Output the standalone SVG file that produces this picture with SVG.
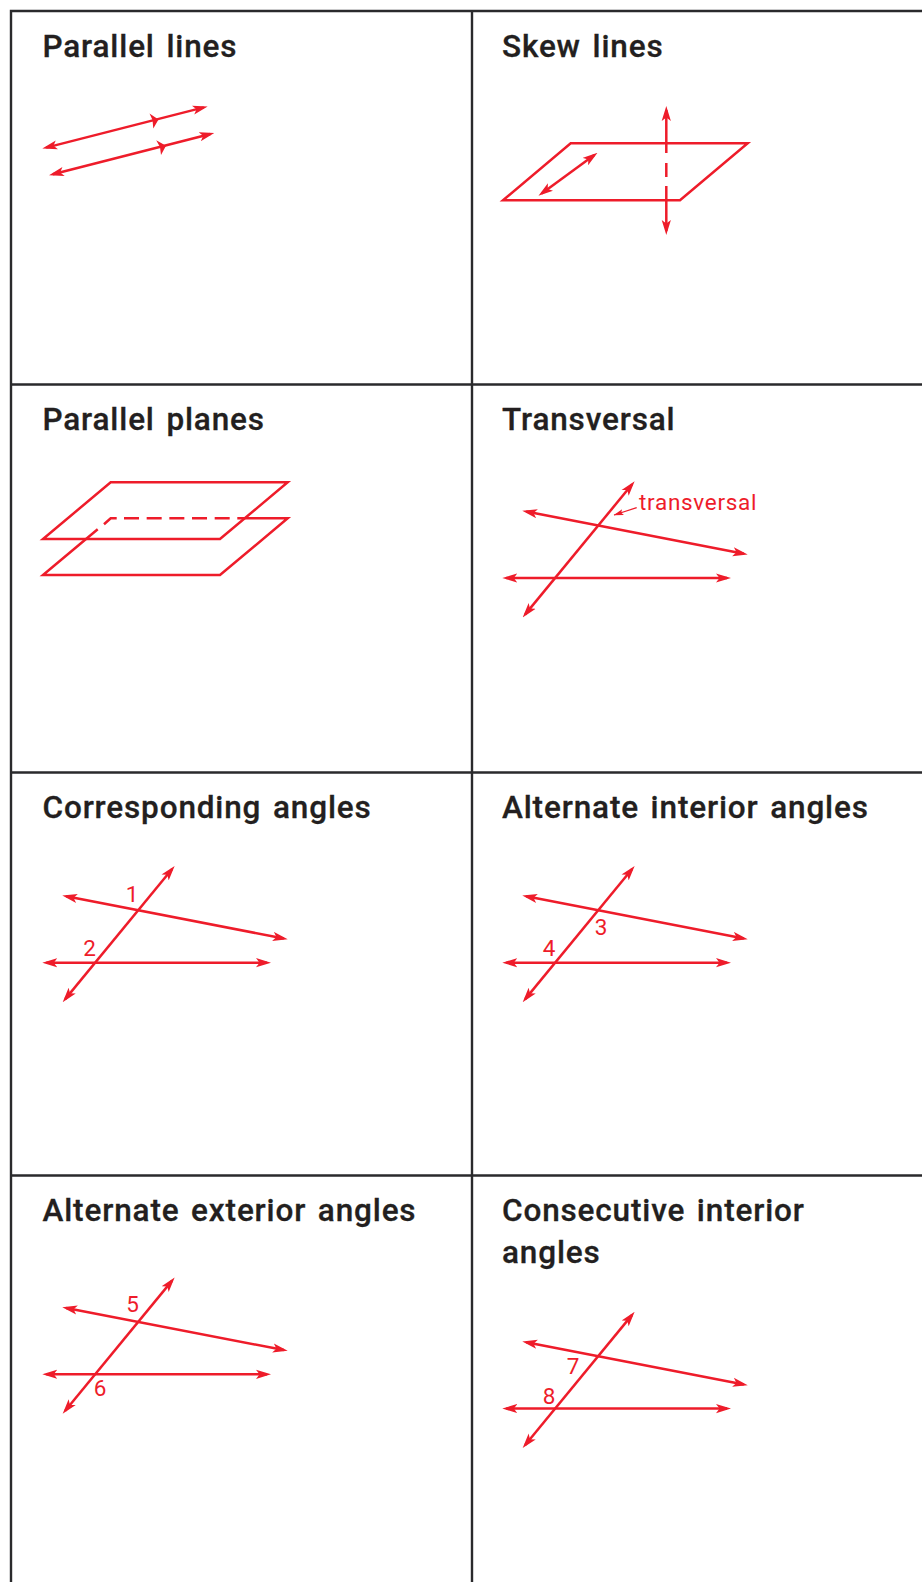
<svg xmlns="http://www.w3.org/2000/svg" width="922" height="1582" viewBox="0 0 922 1582">
<style>
.g{fill:none;stroke:#2a2a2c;stroke-width:2.4}
.t{font-family:Roboto,"Liberation Sans",Arial,sans-serif;font-weight:500;font-size:31.500px;fill:#231f20;stroke:#231f20;stroke-width:.3px;letter-spacing:.85px;word-spacing:3px}
.n{font-family:Roboto,"Liberation Sans",Arial,sans-serif;font-size:22.500px;fill:#ee1c2a;text-anchor:middle}
.l{fill:none;stroke:#ee1c2a;stroke-width:2.500}
.a{marker-start:url(#a);marker-end:url(#a)}
.s{marker-start:url(#a)}
.e{marker-end:url(#a)}
.p{fill:none;stroke:#ee1c2a;stroke-width:2.500;stroke-linejoin:miter}
.h{fill:#ee1c2a}
</style>
<defs>
<marker id="a" viewBox="0 0 15 10" refX="11" refY="5" markerWidth="15" markerHeight="10" markerUnits="userSpaceOnUse" orient="auto-start-reverse"><path d="M0 .4L15 5L0 9.600L3.500 5Z" fill="#ee1c2a"/></marker>
<marker id="b" viewBox="0 0 10 7" refX="9.500" refY="3.500" markerWidth="10" markerHeight="7" markerUnits="userSpaceOnUse" orient="auto"><path d="M0 .5L10 3.500L0 6.500L2 3.500Z" fill="#ee1c2a"/></marker>
<g id="tri"><path class="l a" d="M66.200 1307.900L283.800 1350.100"/><path class="l a" d="M46.300 1374.300H267"/><path class="l a" d="M172.100 1280.600L65.200 1410.700"/></g>
</defs>
<g id="grid">
<path class="g" d="M922 11H11V1582M472 11V1582M11 384.500H922M11 772.500H922M11 1175.500H922"/>
</g>
<g id="parallel-lines">
<text class="t" x="42.500" y="57">Parallel lines</text>
<path class="l a" d="M46.200 147.600L203.800 107.400"/><path class="l a" d="M52.900 174.300L210.400 134"/>
<path class="h" d="M149.500 113.500L158.500 119.500L153.300 128.500L152.500 120Z"/><path class="h" d="M156.200 140.200L166 145.700L161 155L160 147Z"/>
</g>
<g id="skew-lines">
<text class="t" x="502" y="57">Skew lines</text>
<path class="p" d="M570.700 143.300H747.700L680 200.300H503Z"/>
<path class="l a" d="M594.300 155.100L541.700 193.500"/>
<path class="l s" d="M666.300 110V153"/><path class="l" d="M666.300 163V177"/><path class="l e" d="M666.300 186V231"/>
</g>
<g id="parallel-planes">
<text class="t" x="42.500" y="430">Parallel planes</text>
<path class="p" d="M110.700 482.300H287.700L220 539H43Z"/>
<path class="p" d="M97.700 529.300L43 575H220L287.700 518.300H237.300"/>
<path class="p" d="M104 524.300L110.700 518.300H116.700"/>
<path class="p" stroke-dasharray="15 7.670" d="M124 518.300H232"/>
</g>
<g id="transversal">
<text class="t" x="502" y="430">Transversal</text>
<use href="#tri" x="460" y="-796.300"/>
<path d="M636.700 507.700L614 515" fill="none" stroke="#ee1c2a" stroke-width="1.300" marker-end="url(#b)"/>
<text class="n" x="639" y="510" style="text-anchor:start;letter-spacing:.7px">transversal</text>
</g>
<g id="corresponding-angles">
<text class="t" x="42.500" y="818">Corresponding angles</text>
<use href="#tri" y="-411.600"/>
<text class="n" x="132" y="902">1</text><text class="n" x="89.500" y="956">2</text>
</g>
<g id="alternate-interior-angles">
<text class="t" x="502" y="818">Alternate interior angles</text>
<use href="#tri" x="460" y="-411.600"/>
<text class="n" x="601" y="934.500">3</text><text class="n" x="549" y="956">4</text>
</g>
<g id="alternate-exterior-angles">
<text class="t" x="42.500" y="1221">Alternate exterior angles</text>
<use href="#tri"/>
<text class="n" x="132.500" y="1312">5</text><text class="n" x="100" y="1396">6</text>
</g>
<g id="consecutive-interior-angles">
<text class="t" x="502" y="1221">Consecutive interior</text>
<text class="t" x="502" y="1263">angles</text>
<use href="#tri" x="460" y="34.300"/>
<text class="n" x="573" y="1373.500">7</text><text class="n" x="549" y="1403.500">8</text>
</g>
</svg>
